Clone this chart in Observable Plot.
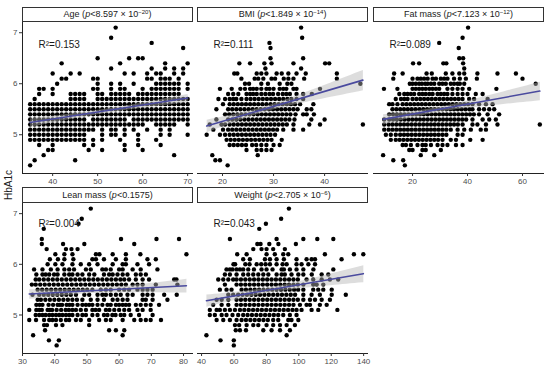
<!DOCTYPE html>
<html>
<head>
<meta charset="utf-8">
<script src="https://cdn.jsdelivr.net/npm/d3@7"></script>
<script src="https://cdn.jsdelivr.net/npm/@observablehq/plot@0.6"></script>
<style>
  html, body { margin: 0; padding: 0; background: #fff; }
  #chart { position: relative; width: 550px; height: 367px; background: #fff; font-family: "Liberation Sans", Arial, sans-serif; overflow: hidden; }
  .strip { position: absolute; box-sizing: border-box; border: 1px solid #333; background: #fff; color: #1a1a1a; font-size: 9px; text-align: center; white-space: nowrap; }
  .strip sup { font-size: 6px; vertical-align: 3px; line-height: 0; }
  .ylab { position: absolute; font-size: 10px; color: #1a1a1a; transform: translate(-50%, -50%) rotate(-90deg); white-space: nowrap; }
  svg { position: absolute; }
</style>
</head>
<body>
<div id="chart"></div>
<script>
// ---- data: HbA1c level, then x values of points at that level ----
const ageRows = [
  [7.1, [54]], [6.9, [53]], [6.8, [62]], [6.7, [69]],
  [6.5, [50, 57, 59, 60]],
  [6.4, [42, 55, 65, 70]],
  [6.3, [53, 62, 65, 67, 69]],
  [6.2, [40, 44, 46, 56, 58, 61, 63, 64, 67, 69]],
  [6.1, [42, 43, 49, 50, 61, 62, 64, 65, 66, 68]],
  [6.0, [41, 50, 53, 55, 58, 63, 64, 65, 66, 67, 68, 70]],
  [5.9, [37, 38, 40, 49, 50, 53, 55, 56, 60, 62, 63, 64, 65, 66, 67, 68, 70]],
  [5.8, [37, 40, 44, 45, 46, 47, 50, 51, 53, 54, 55, 56, 57, 59, 60, 61, 62, 63, 64, 65, 66, 67, 68]],
  [5.7, [36, 44, 45, 46, 47, 50, 51, 52, 53, 54, 55, 56, 57, 58, 59, 60, 61, 62, 63, 64, 65, 66, 67, 68, 69, 70]],
  [5.6, [35, 36, 37, 38, 39, 40, 41, 42, 43, 44, 45, 46, 47, 48, 49, 50, 51, 52, 53, 54, 55, 56, 57, 58, 59, 60, 61, 62, 63, 64, 65, 66, 67, 68, 69, 70]],
  [5.5, [35, 36, 37, 38, 39, 40, 41, 42, 43, 44, 45, 46, 47, 48, 49, 50, 51, 52, 53, 54, 55, 56, 57, 58, 59, 60, 61, 62, 63, 64, 65, 66, 67, 68, 69, 70]],
  [5.4, [35, 36, 37, 38, 39, 40, 41, 42, 43, 44, 45, 46, 47, 48, 49, 50, 51, 52, 53, 54, 55, 56, 57, 58, 59, 60, 61, 62, 63, 64, 65, 66, 67, 68, 69, 70]],
  [5.3, [35, 36, 37, 38, 39, 40, 41, 42, 43, 44, 45, 46, 47, 49, 50, 51, 52, 53, 54, 55, 56, 58, 59, 60, 61, 62, 63, 64, 65, 66, 67, 68, 69, 70]],
  [5.2, [35, 36, 37, 38, 39, 40, 41, 42, 43, 44, 45, 46, 47, 48, 49, 50, 51, 52, 53, 54, 55, 56, 57, 58, 59, 60, 63, 64, 65, 66, 67, 70]],
  [5.1, [35, 36, 37, 38, 39, 40, 41, 42, 43, 44, 45, 46, 47, 48, 49, 51, 53, 54, 56, 58, 61, 64, 66]],
  [5.0, [35, 36, 37, 38, 39, 40, 41, 42, 43, 44, 45, 46, 47, 51, 53, 54, 56, 59, 64, 66, 70]],
  [4.9, [35, 36, 37, 38, 39, 40, 41, 42, 43, 44, 45, 46, 47, 49, 51, 55, 59, 63]],
  [4.8, [37, 40, 47, 49, 56, 59, 64]],
  [4.7, [39, 40, 48, 51, 56, 60]],
  [4.6, [38, 67]],
  [4.5, [36, 45]],
  [4.4, [35]]
];

const bmiRows = [
  [7.1, [35.4]], [6.9, [35.6]], [6.8, [29.2]], [6.7, [29.4]],
  [6.5, [29.4, 35.8]],
  [6.4, [23.3, 25.4, 28.2, 29.6, 33.9, 40.1, 40.9]],
  [6.3, [28.4, 35.4]],
  [6.2, [22.3, 22.9, 26.7, 27.6, 28.6, 30.6, 31.6, 32.9, 34.5, 36.3, 42.4]],
  [6.1, [23.7, 26.3, 27.0, 28.0, 29.6, 30.3, 32.0, 32.9, 33.9, 36.0, 42.4]],
  [6.0, [24.4, 25.2, 27.6, 28.9, 31.2, 32.7, 33.5, 47.0]],
  [5.9, [19.5, 21.8, 23.5, 24.4, 25.4, 26.0, 26.7, 27.6, 28.6, 29.2, 30.0, 31.2, 31.9, 32.5, 33.9, 34.5, 39.1]],
  [5.8, [21.1, 22.1, 23.1, 24.7, 25.4, 26.0, 26.7, 27.6, 28.4, 29.2, 29.9, 30.9, 31.8, 32.5, 33.2, 34.5, 35.8, 37.5]],
  [5.7, [19.2, 20.5, 21.4, 22.1, 22.7, 23.7, 24.7, 25.5, 26.3, 27.1, 27.9, 28.7, 29.5, 30.3, 31.1, 31.9, 32.7, 33.5, 34.5, 35.8]],
  [5.6, [20.1, 21.4, 22.2, 23.0, 23.8, 24.6, 25.4, 26.2, 27.0, 27.8, 28.6, 29.4, 30.2, 31.0, 31.8, 32.6, 33.4, 34.2, 35.2, 37.8]],
  [5.5, [18.8, 21.1, 21.9, 22.7, 23.5, 24.3, 25.1, 25.9, 26.7, 27.5, 28.3, 29.1, 29.9, 30.7, 31.5, 32.3, 33.1, 33.9, 34.7, 36.5, 37.4]],
  [5.4, [20.5, 21.3, 22.1, 22.9, 23.7, 24.5, 25.3, 26.1, 26.9, 27.7, 28.5, 29.3, 30.1, 30.9, 31.7, 32.5, 33.3, 34.3, 35.8, 36.5, 37.9]],
  [5.3, [18.8, 21.1, 21.9, 22.7, 23.5, 24.3, 25.1, 25.9, 26.7, 27.5, 28.3, 29.1, 29.9, 30.7, 31.5, 32.3, 33.1, 34.1, 37.4, 40.0]],
  [5.2, [17.5, 19.8, 20.5, 21.4, 22.2, 23.0, 23.8, 24.6, 25.4, 26.2, 27.0, 27.8, 28.6, 29.4, 30.2, 31.0, 31.8, 32.6, 33.9, 37.0, 39.1, 47.5]],
  [5.1, [18.2, 20.1, 21.1, 21.9, 22.7, 23.5, 24.3, 25.1, 25.9, 26.7, 27.5, 28.3, 29.1, 29.9, 30.7, 31.9, 33.9, 35.8]],
  [5.0, [16.9, 19.5, 20.5, 21.4, 22.2, 23.0, 23.8, 24.6, 25.4, 26.2, 27.0, 27.8, 28.6, 29.4, 30.3]],
  [4.9, [20.8, 21.6, 22.4, 23.2, 24.0, 24.8, 25.6, 26.4, 27.2, 28.0, 28.8, 29.6, 31.6]],
  [4.8, [21.4, 22.2, 23.0, 23.8, 24.6, 25.8, 26.6, 27.6, 28.6, 30.0, 31.2]],
  [4.7, [24.7, 26.7, 27.6, 28.6, 29.6]],
  [4.6, [18.0, 26.9]],
  [4.5, [18.6, 19.5]],
  [4.4, [21.0]]
];

const fatRows = [
  [7.1, [40.2]], [6.9, [38.2]], [6.8, [29.7]], [6.7, [36.8]],
  [6.5, [37.0, 38.4]],
  [6.4, [20.2, 22.4, 31.2, 32.3, 38.4]],
  [6.3, [38.8]],
  [6.2, [13.3, 16.4, 25.1, 27.0, 32.1, 34.5, 37.0, 38.8, 43.6, 50.9, 57.6]],
  [6.1, [13.0, 20.0, 21.8, 23.0, 24.2, 25.5, 27.3, 28.5, 30.3, 31.5, 32.7, 35.1, 37.2, 39.4, 43.4, 60.0]],
  [6.0, [19.0, 20.0, 21.2, 22.4, 23.4, 24.6, 25.5, 26.7, 27.9, 29.7, 30.9, 32.1, 33.9, 35.1, 36.4, 37.2, 38.8, 64.8]],
  [5.9, [9.6, 14.5, 20.0, 21.2, 22.4, 23.6, 24.8, 26.1, 27.3, 28.5, 29.7, 32.7, 34.5, 36.4, 38.2, 40.6, 50.5]],
  [5.8, [15.2, 17.0, 18.2, 19.4, 20.6, 22.4, 23.6, 24.8, 26.1, 27.3, 29.1, 30.3, 31.5, 32.7, 34.5, 36.4, 38.2, 40.0, 43.0, 45.5]],
  [5.7, [13.9, 15.8, 17.0, 18.2, 20.0, 21.4, 22.8, 24.2, 25.6, 27.0, 28.4, 29.8, 31.2, 32.6, 34.0, 35.4, 36.8, 38.2, 40.6, 42.4, 47.3]],
  [5.6, [11.5, 12.7, 14.5, 16.4, 17.8, 19.2, 20.6, 22.0, 23.4, 24.8, 26.2, 27.6, 29.0, 30.4, 31.8, 33.2, 34.6, 36.0, 37.4, 38.8, 40.2, 41.8, 44.2, 46.7, 49.1]],
  [5.5, [12.7, 14.1, 15.5, 16.9, 18.3, 19.7, 21.1, 22.5, 23.9, 25.3, 26.7, 28.1, 29.5, 30.9, 32.3, 33.7, 35.1, 36.5, 37.9, 39.3, 40.7, 41.8, 44.2, 46.0, 47.9, 49.7]],
  [5.4, [11.5, 12.9, 14.3, 15.7, 17.1, 18.5, 19.9, 21.3, 22.7, 24.1, 25.5, 26.9, 28.3, 29.7, 31.1, 32.5, 33.9, 35.3, 36.7, 38.1, 39.5, 40.9, 42.3, 44.2, 47.3, 51.5]],
  [5.3, [9.7, 11.5, 12.9, 14.3, 15.7, 17.1, 18.5, 19.9, 21.3, 22.7, 24.1, 25.5, 26.9, 28.3, 29.7, 31.1, 32.5, 33.9, 35.3, 36.7, 38.1, 39.5, 41.8, 45.5, 47.9, 50.3]],
  [5.2, [9.7, 11.3, 12.7, 14.1, 15.5, 16.9, 18.3, 19.7, 21.1, 22.5, 23.9, 25.3, 26.7, 28.1, 29.5, 30.9, 32.3, 33.7, 35.1, 36.5, 38.2, 41.8, 43.6, 46.7, 50.9, 66.3]],
  [5.1, [9.7, 11.3, 12.7, 14.1, 15.5, 16.9, 18.3, 19.7, 21.1, 22.5, 23.9, 25.3, 26.7, 28.1, 29.5, 30.9, 32.3, 33.9, 36.4, 38.8, 41.2, 44.8, 46.7]],
  [5.0, [10.3, 12.1, 13.9, 15.5, 16.9, 18.3, 19.7, 21.1, 22.5, 23.9, 25.3, 26.7, 28.1, 29.5, 30.9, 32.3, 36.4, 38.2]],
  [4.9, [12.1, 13.9, 15.3, 16.7, 18.1, 19.5, 20.9, 22.3, 23.7, 25.1, 26.5, 27.9, 29.3, 30.9, 33.9, 35.8, 41.0, 45.5]],
  [4.8, [16.4, 17.6, 19.4, 21.8, 23.6, 24.8, 26.7, 29.1, 30.9, 32.7, 35.8, 38.2]],
  [4.7, [18.8, 20.0, 23.6, 24.8, 30.3]],
  [4.6, [9.3, 23.0, 27.9]],
  [4.5, [13.0, 16.6]],
  [4.4, [17.2]]
];

const leanRows = [
  [7.1, [51.2]], [6.9, [48.4]], [6.8, [47.4]], [6.7, [36.6]],
  [6.5, [36.0, 60.6, 71.6, 78.6]],
  [6.4, [36.0, 42.6, 49.2, 64.7]],
  [6.3, [37.5, 43.5, 45.2, 47.1]],
  [6.2, [40.2, 43.0, 45.5, 52.8, 53.9, 58.0, 62.1, 66.6, 80.9]],
  [6.1, [38.5, 41.0, 43.0, 45.8, 51.7, 52.8, 55.3, 59.0, 62.1, 68.8, 71.4]],
  [6.0, [37.8, 40.2, 42.4, 45.5, 48.1, 50.7, 53.3, 58.0, 61.1, 62.1, 65.7, 69.3]],
  [5.9, [33.6, 36.2, 38.8, 40.9, 43.0, 44.5, 46.0, 49.7, 51.2, 54.8, 55.9, 57.4, 60.0, 61.1, 64.2, 66.7, 71.9]],
  [5.8, [34.3, 36.2, 37.2, 38.3, 39.8, 40.9, 43.0, 44.5, 45.5, 47.1, 48.6, 50.7, 52.3, 55.3, 56.9, 58.0, 59.5, 61.1, 62.6, 65.2, 66.7, 68.3]],
  [5.7, [34.1, 35.2, 36.6, 38.0, 39.4, 40.8, 42.2, 43.6, 45.0, 46.4, 47.8, 49.2, 50.6, 52.0, 53.4, 54.8, 56.2, 57.6, 59.0, 60.4, 61.6, 63.1, 65.2, 67.3, 69.3, 77.1, 77.8]],
  [5.6, [32.9, 34.1, 35.5, 36.9, 38.3, 39.7, 41.1, 42.5, 43.9, 45.3, 46.7, 48.1, 49.5, 50.9, 52.3, 53.7, 55.1, 56.5, 57.9, 59.3, 60.7, 62.1, 64.2, 65.7, 67.3, 71.4, 78.1]],
  [5.5, [34.7, 36.1, 37.5, 38.9, 40.3, 41.7, 43.1, 44.5, 45.9, 47.3, 48.7, 50.1, 51.7, 54.3, 55.9, 57.4, 60.0, 61.6, 63.1, 65.7, 67.3, 68.8, 70.4]],
  [5.4, [33.1, 35.2, 36.6, 38.0, 39.4, 40.8, 42.2, 43.6, 45.0, 46.6, 49.2, 50.7, 53.3, 54.8, 55.9, 57.4, 59.0, 60.5, 62.6, 64.2, 67.3, 68.8, 70.4, 74.0, 77.9]],
  [5.3, [34.7, 35.7, 37.1, 38.5, 39.9, 41.3, 42.7, 44.1, 45.5, 46.9, 48.6, 51.2, 53.3, 55.3, 58.0, 59.5, 61.1, 62.6, 67.3, 68.3, 70.4, 75.0]],
  [5.2, [34.3, 35.3, 36.2, 38.1, 39.5, 40.9, 41.6, 42.3, 43.7, 44.6, 45.5, 47.1, 48.6, 49.7, 50.7, 51.7, 53.3, 54.8, 56.4, 57.4, 59.0, 60.0, 61.1, 62.1, 63.1, 65.2, 66.7, 68.3, 69.8, 72.4]],
  [5.1, [32.1, 34.3, 35.2, 36.0, 37.8, 38.5, 39.2, 40.6, 42.0, 43.4, 44.4, 45.5, 46.6, 48.1, 49.7, 51.7, 52.7, 53.8, 55.9, 57.0, 58.5, 60.0, 61.6, 63.1, 65.7, 67.3, 69.8]],
  [5.0, [34.1, 35.2, 36.2, 37.2, 38.3, 39.3, 40.4, 41.4, 42.4, 43.5, 44.5, 45.5, 47.1, 48.6, 49.7, 51.7, 53.3, 55.3, 56.4, 57.9, 58.9, 60.5, 61.6, 63.6, 66.2, 70.4]],
  [4.9, [32.1, 34.2, 36.7, 38.3, 39.3, 40.4, 41.9, 43.5, 44.5, 46.6, 48.1, 50.7, 53.8, 55.9, 57.4, 61.1, 64.7, 66.7, 68.3, 69.8, 73.0]],
  [4.8, [36.7, 37.6, 40.4, 42.4, 50.7]],
  [4.7, [37.0, 56.9, 59.0, 61.6]],
  [4.6, [33.3, 61.1]],
  [4.5, [38.2, 41.3]],
  [4.4, [40.6]]
];

const weightRows = [
  [7.1, [93.9]], [6.9, [89.1]], [6.8, [79.7]], [6.7, [75.6]],
  [6.5, [57.5, 86.3, 102.8, 111.4, 121.3]],
  [6.4, [74.4, 76.4, 81.8, 87.4, 98.2]],
  [6.3, [71.9, 77.0, 80.1, 84.2, 91.4]],
  [6.2, [62.0, 67.8, 80.1, 85.2, 90.4, 93.5, 116.1, 134.0, 139.8]],
  [6.1, [65.7, 69.8, 79.1, 82.2, 86.3, 90.8, 98.6, 104.8, 107.9, 110.0, 126.4]],
  [6.0, [59.7, 60.7, 67.0, 69.6, 74.0, 76.8, 79.5, 82.2, 86.3, 90.0, 92.5, 98.6, 101.7, 105.9, 110.0]],
  [5.9, [55.4, 57.5, 59.1, 61.6, 63.7, 65.7, 68.8, 72.3, 77.0, 80.1, 83.8, 89.4, 90.8, 94.5, 98.6, 102.8, 109.0, 121.3]],
  [5.8, [54.4, 57.5, 61.6, 65.7, 68.8, 71.9, 75.0, 78.1, 81.2, 86.3, 89.4, 91.4, 95.5, 99.7, 102.8, 108.0, 114.1, 118.2]],
  [5.7, [50.3, 53.4, 56.5, 59.5, 61.6, 64.3, 67.0, 69.7, 72.4, 75.1, 77.8, 80.5, 83.2, 85.9, 88.6, 91.3, 94.0, 96.7, 99.4, 104.8, 108.9, 114.1, 119.2, 124.3]],
  [5.6, [54.4, 61.6, 64.3, 67.0, 69.7, 72.4, 75.1, 77.8, 80.5, 83.2, 85.9, 88.6, 91.3, 94.0, 96.7, 99.4, 102.8, 108.9, 111.0, 115.1]],
  [5.5, [51.3, 55.4, 58.5, 64.7, 67.4, 70.1, 72.8, 75.5, 78.2, 80.9, 83.6, 86.3, 89.0, 91.7, 94.4, 97.1, 99.6, 102.8, 108.9, 112.0, 115.1, 120.3]],
  [5.4, [56.5, 59.5, 62.6, 65.3, 68.0, 70.7, 73.4, 76.1, 78.8, 81.5, 84.2, 86.9, 89.6, 92.3, 95.0, 97.7, 102.8, 107.9, 113.0, 120.3, 129.0]],
  [5.3, [49.3, 52.4, 56.5, 61.6, 64.3, 67.0, 69.7, 72.4, 75.1, 77.8, 80.5, 83.2, 85.9, 88.6, 91.3, 94.0, 96.7, 99.4, 102.8, 106.9, 110.0, 114.1, 119.2]],
  [5.2, [47.2, 52.4, 56.5, 61.6, 64.3, 67.0, 69.7, 72.4, 75.1, 77.8, 80.5, 83.2, 85.9, 88.6, 91.3, 94.0, 96.7, 100.7, 104.8, 106.9, 113.0, 117.2]],
  [5.1, [45.1, 49.3, 51.3, 54.4, 57.5, 60.6, 63.7, 66.4, 69.1, 71.8, 74.5, 77.2, 79.9, 82.6, 85.3, 88.0, 90.7, 93.4, 96.1, 98.6, 101.7, 107.9, 112.0, 123.8]],
  [5.0, [45.1, 48.2, 52.4, 55.4, 59.1, 62.6, 65.7, 68.4, 71.1, 73.8, 76.5, 79.2, 81.9, 84.6, 87.3, 90.4, 94.5, 98.6]],
  [4.9, [49.3, 53.4, 57.5, 61.6, 64.7, 67.4, 70.1, 72.8, 75.5, 78.2, 80.9, 84.2, 87.3, 93.5, 95.5, 99.7]],
  [4.8, [60.6, 63.2, 67.8, 71.9, 75.0, 80.1, 84.2, 88.4, 92.5, 97.6]],
  [4.7, [61.1, 63.7, 67.4, 78.1, 83.2, 88.4, 94.5]],
  [4.6, [43.0, 92.5]],
  [4.5, [51.7, 59.9]],
  [4.4, [59.9]]
];

// ---- labels and ticks ----
const panelNames = ["Age", "BMI", "Fat mass", "Lean mass", "Weight"];
const pValues = ["8.597", "1.849", "7.123", "0.1575", "2.705"];
const pExponents = ["\u221220", "\u221214", "\u221212", null, "\u22126"];
const r2Labels = ["R\u00b2=0.153", "R\u00b2=0.111", "R\u00b2=0.089", "R\u00b2=0.004", "R\u00b2=0.043"];
const ageTicks = [40, 50, 60, 70];
const bmiTicks = [20, 30, 40];
const fatTicks = [20, 40, 60];
const leanTicks = [30, 40, 50, 60, 70, 80];
const weightTicks = [40, 60, 80, 100, 120, 140];
const yTicks = [5, 6, 7];
const yTitle = "HbA1c";

// ---- layout ----
const yDomain = [4.24, 7.22];
const layout = [
  {rows: ageRows,    ticks: ageTicks,    xDomain: [33.3, 71.3],  left: 22,  top: 21,  w: 171, h: 152, stripTop: 7,   col1: true},
  {rows: bmiRows,    ticks: bmiTicks,    xDomain: [15.1, 48.6],  left: 197, top: 21,  w: 171, h: 152, stripTop: 7,   col1: false},
  {rows: fatRows,    ticks: fatTicks,    xDomain: [5.8, 68.0],   left: 373, top: 21,  w: 171, h: 152, stripTop: 7,   col1: false},
  {rows: leanRows,   ticks: leanTicks,   xDomain: [30.0, 83.1],  left: 22,  top: 202, w: 171, h: 151, stripTop: 187, col1: true},
  {rows: weightRows, ticks: weightTicks, xDomain: [37.5, 143.0], left: 197, top: 202, w: 171, h: 151, stripTop: 187, col1: false}
];

const chart = document.getElementById("chart");
const font = "'Liberation Sans', Arial, sans-serif";

layout.forEach((p, i) => {
  const data = p.rows.flatMap(([h, xs]) => xs.map(x => ({x, y: h})));
  const mL = p.col1 ? 22 : 2, mR = 3, mT = 3, mB = 16;
  const svg = Plot.plot({
    width: mL + p.w + mR,
    height: mT + p.h + mB,
    marginLeft: mL, marginRight: mR, marginTop: mT, marginBottom: mB,
    x: {domain: p.xDomain, axis: null},
    y: {domain: yDomain, axis: null},
    style: {fontFamily: font, background: "transparent", overflow: "visible"},
    marks: [
      Plot.ruleY([yDomain[0]], {stroke: "#222", strokeWidth: 1}),
      p.col1 ? Plot.ruleX([p.xDomain[0]], {stroke: "#222", strokeWidth: 1}) : null,
      Plot.axisX({ticks: p.ticks, tickFormat: d => String(d), tickSize: 3, tickPadding: 1.5, fontSize: 8, stroke: "#333", fill: "#4d4d4d", label: null}),
      p.col1 ? Plot.axisY({ticks: yTicks, tickFormat: d => String(d), tickSize: 3, tickPadding: 2, fontSize: 8, stroke: "#333", fill: "#4d4d4d", label: null}) : null,
      Plot.dot(data, {x: "x", y: "y", r: 2.2, fill: "#000", stroke: null}),
      Plot.linearRegressionY(data, {x: "x", y: "y", stroke: "#4a4a9e", strokeWidth: 1.6, fill: "#b4b4b4", fillOpacity: 0.45}),
      Plot.text([r2Labels[i]], {frameAnchor: "top-left", dx: 16, dy: p.top < 100 ? 19 : 17, text: d => d, fontSize: 10, fill: "#1a1a1a", textAnchor: "start"})
    ]
  });
  svg.style.left = (p.left - mL) + "px";
  svg.style.top = (p.top - mT) + "px";
  chart.appendChild(svg);

  const strip = document.createElement("div");
  strip.className = "strip";
  strip.style.left = p.left + "px";
  strip.style.top = p.stripTop + "px";
  strip.style.width = p.w + "px";
  const sh = p.top - p.stripTop + 1;
  strip.style.height = sh + "px";
  strip.style.lineHeight = (sh - 2) + "px";
  strip.innerHTML = panelNames[i] + " (<i>p</i>&lt;" + pValues[i] +
    (pExponents[i] ? " \u00d7 10<sup>" + pExponents[i] + "</sup>" : "") + ")";
  chart.appendChild(strip);
});

const yl = document.createElement("div");
yl.className = "ylab";
yl.style.left = "8px";
yl.style.top = "185px";
yl.textContent = yTitle;
chart.appendChild(yl);
</script>
</body>
</html>
